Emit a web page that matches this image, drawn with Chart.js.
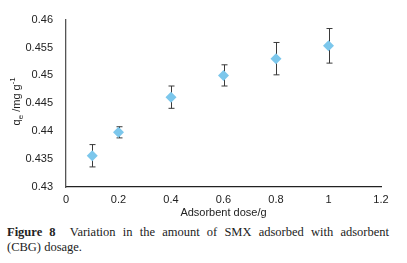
<!DOCTYPE html>
<html>
<head>
<meta charset="utf-8">
<script src="https://cdn.jsdelivr.net/npm/chart.js@4"></script>
<style>
  body { margin: 0; background: #fff; width: 407px; height: 263px; overflow: hidden; position: relative; }
  #wrap { position: absolute; left: 0; top: 0; width: 407px; height: 222px; }
  #caption { position: absolute; left: 7px; top: 225px; width: 382px; font-family: "Liberation Serif", serif; font-size: 12.5px; color: #222; line-height: 14.5px; white-space: nowrap; }
  #caption .l1 { text-align: justify; text-align-last: justify; }
</style>
</head>
<body>
<div id="wrap"><canvas id="adsChart"></canvas></div>
<div id="caption">
  <div class="l1"><b>Figure 8</b>&nbsp; Variation in the amount of SMX adsorbed with adsorbent</div>
  <div>(CBG) dosage.</div>
</div>
<script>
// adsorbent dose (g) vs qe (mg/g)
const doses = [0.1, 0.2, 0.4, 0.6, 0.8, 1.0];
const qe = [0.4356, 0.4398, 0.4461, 0.4500, 0.4530, 0.4553];
const qeErr = [0.0020, 0.0010, 0.0020, 0.0019, 0.0029, 0.0031];
const xTicks = [0, 0.2, 0.4, 0.6, 0.8, 1, 1.2];
const yTicks = [0.43, 0.435, 0.44, 0.445, 0.45, 0.455, 0.46];

const tickFont = { family: 'Liberation Sans', size: 11 };

// draws the vertical error bars behind the markers
const errorBars = {
    id: 'errorBars',
    beforeDatasetsDraw(chart) {
        const ctx = chart.ctx;
        const xs = chart.scales.x, ys = chart.scales.y;
        ctx.save();
        ctx.strokeStyle = '#3a3a3a';
        ctx.lineWidth = 1;
        doses.forEach((d, i) => {
            const px = Math.round(xs.getPixelForValue(d)) + 0.5;
            const top = ys.getPixelForValue(qe[i] + qeErr[i]);
            const bot = ys.getPixelForValue(qe[i] - qeErr[i]);
            ctx.beginPath();
            ctx.moveTo(px, top); ctx.lineTo(px, bot);
            ctx.moveTo(px - 3, top); ctx.lineTo(px + 3, top);
            ctx.moveTo(px - 3, bot); ctx.lineTo(px + 3, bot);
            ctx.stroke();
        });
        ctx.restore();
    }
};

// axis titles, with sub/superscripts on the y one
const axisTitles = {
    id: 'axisTitles',
    afterDraw(chart) {
        const ctx = chart.ctx;
        const area = chart.chartArea;
        ctx.save();
        ctx.fillStyle = '#222';
        ctx.font = '11px "Liberation Sans"';
        ctx.textAlign = 'center';
        ctx.textBaseline = 'middle';
        ctx.fillText('Adsorbent dose/g', (area.left + area.right) / 2, 213);

        ctx.translate(16, (area.top + area.bottom) / 2 - 2);
        ctx.rotate(-Math.PI / 2);
        ctx.textAlign = 'left';
        ctx.textBaseline = 'alphabetic';
        const parts = [
            ['q', 11, 0], ['e', 8, 3], [' /mg g', 11, 0], ['-1', 8, -5]
        ];
        let w = 0;
        parts.forEach(p => { ctx.font = p[1] + 'px "Liberation Sans"'; w += ctx.measureText(p[0]).width; });
        let x = -w / 2;
        parts.forEach(p => {
            ctx.font = p[1] + 'px "Liberation Sans"';
            ctx.fillText(p[0], x, 4 + p[2]);
            x += ctx.measureText(p[0]).width;
        });
        ctx.restore();
    }
};

new Chart(document.getElementById('adsChart'), {
    type: 'scatter',
    data: {
        datasets: [{
            data: doses.map((d, i) => ({ x: d, y: qe[i] })),
            pointStyle: 'rectRot',
            pointRadius: 5.5,
            pointHoverRadius: 5.5,
            backgroundColor: '#7cc7ec',
            borderColor: '#7cc7ec',
            borderWidth: 0
        }]
    },
    options: {
        responsive: true,
        maintainAspectRatio: false,
        animation: false,
        layout: { padding: { left: 0, right: 26, top: 16, bottom: 0 } },
        plugins: { legend: { display: false }, tooltip: { enabled: false } },
        scales: {
            x: {
                type: 'linear',
                min: 0, max: 1.2,
                afterBuildTicks: s => { s.ticks = xTicks.map(v => ({ value: v })); },
                afterFit: s => { s.height = 35; },
                grid: { display: false, drawTicks: false },
                border: { color: '#222', width: 1.3 },
                ticks: { color: '#222', font: tickFont, padding: 6, maxRotation: 0,
                         callback: v => String(v) }
            },
            y: {
                min: 0.43, max: 0.46,
                afterBuildTicks: s => { s.ticks = yTicks.map(v => ({ value: v })); },
                afterFit: s => { s.width = 66; },
                grid: { display: false, drawTicks: false },
                border: { color: '#555', width: 1.3 },
                ticks: { color: '#222', font: tickFont, padding: 13,
                         callback: v => String(+v.toFixed(3)) }
            }
        }
    },
    plugins: [errorBars, axisTitles]
});
</script>
</body>
</html>
